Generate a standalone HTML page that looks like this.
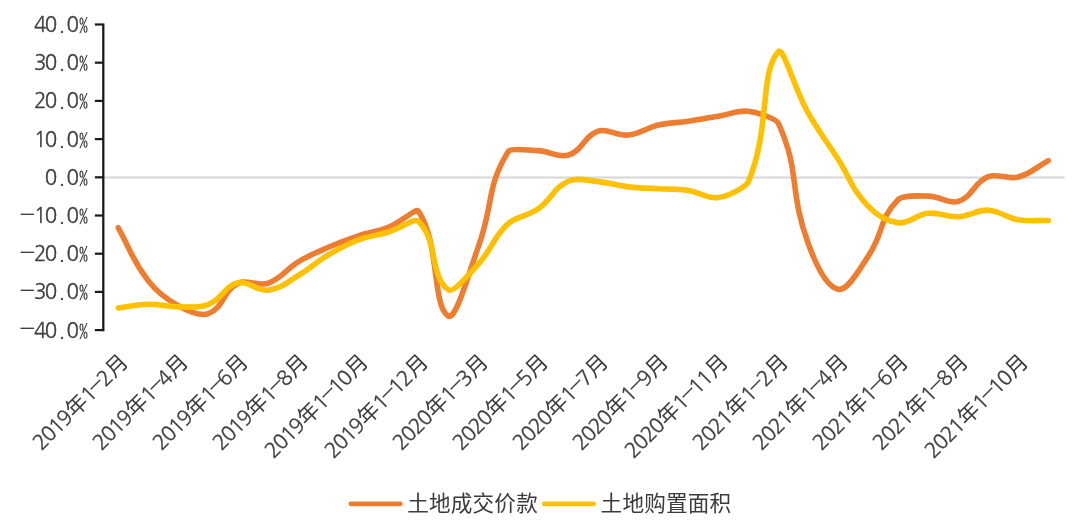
<!DOCTYPE html>
<html lang="zh-CN"><head><meta charset="utf-8"><title>chart</title>
<style>
html,body{margin:0;padding:0;background:#fff;}
body{width:1080px;height:529px;overflow:hidden;position:relative;}
svg{position:absolute;left:0;top:0;display:block;}
text{font-family:"NanumGothic","DejaVu Sans","Liberation Sans","Noto Sans CJK SC",sans-serif;font-size:20.6px;font-weight:400;fill:#404040;stroke:#404040;stroke-width:0.3px;}
.mn{font-family:"Noto Sans CJK SC","Liberation Sans",sans-serif;font-weight:300;font-size:29px;stroke:none;}
.m{text-anchor:middle;}
.cj{font-family:"Liberation Sans","Noto Sans CJK SC",sans-serif;font-size:21.6px;font-weight:400;fill:#3c3c3c;stroke:none;}
.pc{font-family:"IPAGothic","Liberation Sans",sans-serif;font-size:18px;stroke:none;}
.lg{font-family:"Liberation Sans","Noto Sans CJK SC",sans-serif;letter-spacing:0.2px;font-size:21.6px;font-weight:400;fill:#3c3c3c;stroke:none;}
</style></head><body>
<svg width="1080" height="529" viewBox="0 0 1080 529">

<line x1="104" y1="177.5" x2="1064.5" y2="177.5" stroke="#d6d6d6" stroke-width="2"/>
<line x1="103.3" y1="23.4" x2="103.3" y2="331.2" stroke="#1a1a1a" stroke-width="2.3"/>
<line x1="94.9" y1="24.5" x2="103" y2="24.5" stroke="#1a1a1a" stroke-width="2.2"/>
<text class="m"  x="40.3 51.1 61.9 72.7 83.5" y="31.9 31.9 31.9 31.9 31.9">40.0<tspan class="pc">%</tspan></text>
<line x1="94.9" y1="62.7" x2="103" y2="62.7" stroke="#1a1a1a" stroke-width="2.2"/>
<text class="m"  x="40.3 51.1 61.9 72.7 83.5" y="70.1 70.1 70.1 70.1 70.1">30.0<tspan class="pc">%</tspan></text>
<line x1="94.9" y1="100.9" x2="103" y2="100.9" stroke="#1a1a1a" stroke-width="2.2"/>
<text class="m"  x="40.3 51.1 61.9 72.7 83.5" y="108.3 108.3 108.3 108.3 108.3">20.0<tspan class="pc">%</tspan></text>
<line x1="94.9" y1="139.1" x2="103" y2="139.1" stroke="#1a1a1a" stroke-width="2.2"/>
<text class="m"  x="40.3 51.1 61.9 72.7 83.5" y="146.5 146.5 146.5 146.5 146.5">10.0<tspan class="pc">%</tspan></text>
<line x1="94.9" y1="177.3" x2="103" y2="177.3" stroke="#1a1a1a" stroke-width="2.2"/>
<text class="m"  x="51.1 61.9 72.7 83.5" y="184.7 184.7 184.7 184.7">0.0<tspan class="pc">%</tspan></text>
<line x1="94.9" y1="215.5" x2="103" y2="215.5" stroke="#1a1a1a" stroke-width="2.2"/>
<text class="m"  x="27.3 40.3 51.1 61.9 72.7 83.5" y="224.7 222.9 222.9 222.9 222.9 222.9"><tspan class="mn">−</tspan>10.0<tspan class="pc">%</tspan></text>
<line x1="94.9" y1="253.7" x2="103" y2="253.7" stroke="#1a1a1a" stroke-width="2.2"/>
<text class="m"  x="27.3 40.3 51.1 61.9 72.7 83.5" y="262.9 261.1 261.1 261.1 261.1 261.1"><tspan class="mn">−</tspan>20.0<tspan class="pc">%</tspan></text>
<line x1="94.9" y1="291.9" x2="103" y2="291.9" stroke="#1a1a1a" stroke-width="2.2"/>
<text class="m"  x="27.3 40.3 51.1 61.9 72.7 83.5" y="301.1 299.3 299.3 299.3 299.3 299.3"><tspan class="mn">−</tspan>30.0<tspan class="pc">%</tspan></text>
<line x1="94.9" y1="330.1" x2="103" y2="330.1" stroke="#1a1a1a" stroke-width="2.2"/>
<text class="m"  x="27.3 40.3 51.1 61.9 72.7 83.5" y="339.3 337.5 337.5 337.5 337.5 337.5"><tspan class="mn">−</tspan>40.0<tspan class="pc">%</tspan></text>
<path d="M118.3,227.8 C130.3,249.0 131.3,258.7 148.3,280.9 C155.3,289.9 163.6,297.7 178.3,305.7 C187.6,310.8 200.0,316.8 208.3,313.7 C224.0,307.8 222.2,291.4 238.3,283.2 C246.2,279.2 258.7,286.6 268.3,283.2 C282.7,278.0 285.1,269.7 298.3,261.8 C309.1,255.3 315.9,252.7 328.3,247.3 C339.9,242.3 345.9,239.9 358.3,235.8 C369.9,232.0 377.4,231.9 388.3,227.4 C401.4,222.0 416.2,207.8 418.3,211.0 C440.2,243.3 432.0,306.3 448.3,316.0 C456.0,320.7 469.6,270.7 478.3,246.9 C493.6,204.9 486.3,186.7 508.3,151.4 C510.3,148.2 526.4,149.9 538.3,150.6 C550.4,151.4 559.1,158.2 568.3,155.2 C583.1,150.4 583.5,136.2 598.3,131.1 C607.5,128.1 616.8,136.1 628.3,135.0 C640.8,133.7 645.8,127.9 658.3,125.0 C669.8,122.4 676.4,123.0 688.3,121.2 C700.4,119.4 706.3,118.2 718.3,116.2 C730.3,114.3 737.0,110.0 748.3,111.3 C761.0,112.7 776.8,119.8 778.3,123.1 C800.8,172.8 788.2,188.1 808.3,243.8 C812.2,254.5 824.0,286.4 838.3,289.3 C848.0,291.3 860.4,267.9 868.3,256.1 C884.4,232.0 878.7,219.1 898.3,199.5 C902.7,195.2 916.4,195.7 928.3,196.1 C940.4,196.5 949.2,204.4 958.3,201.4 C973.2,196.6 973.2,182.7 988.3,176.6 C997.2,173.0 1007.9,179.8 1018.3,177.0 C1031.9,173.4 1036.3,167.1 1048.3,160.6" fill="none" stroke="#ED7D31" stroke-width="5.6" stroke-linecap="round" stroke-linejoin="round"/>
<path d="M118.3,308.0 C130.3,306.5 136.3,304.4 148.3,304.2 C160.3,304.0 166.3,306.8 178.3,306.9 C190.3,306.9 198.8,308.4 208.3,304.6 C222.8,298.8 224.1,286.2 238.3,282.8 C248.1,280.4 257.2,291.4 268.3,290.1 C281.2,288.5 287.4,282.0 298.3,275.5 C311.4,267.9 315.3,262.6 328.3,254.9 C339.3,248.4 345.4,244.9 358.3,240.0 C369.4,235.8 376.6,235.6 388.3,232.0 C400.6,228.2 414.6,217.7 418.3,221.3 C438.6,240.8 429.5,276.3 448.3,289.7 C453.5,293.4 469.2,274.1 478.3,264.1 C493.2,247.7 491.7,239.0 508.3,223.6 C515.7,216.8 528.6,215.5 538.3,208.7 C552.6,198.6 552.8,188.2 568.3,181.2 C576.8,177.4 586.5,180.4 598.3,181.6 C610.5,182.7 616.1,185.4 628.3,186.9 C640.1,188.3 646.3,188.1 658.3,188.8 C670.3,189.5 676.6,188.6 688.3,190.4 C700.6,192.2 707.4,199.1 718.3,197.6 C731.4,195.8 746.9,185.5 748.3,182.0 C770.9,127.1 759.3,73.5 778.3,51.7 C783.3,46.0 793.7,87.1 808.3,113.2 C817.7,130.1 826.4,141.0 838.3,159.4 C850.4,178.3 850.9,188.0 868.3,206.4 C874.9,213.3 885.3,221.3 898.3,222.8 C909.3,224.1 915.8,214.5 928.3,213.3 C939.8,212.1 946.5,217.3 958.3,216.7 C970.5,216.1 976.6,209.6 988.3,210.2 C1000.6,210.8 1005.7,217.6 1018.3,219.8 C1029.7,221.7 1036.3,220.2 1048.3,220.5" fill="none" stroke="#FFC000" stroke-width="5.6" stroke-linecap="round" stroke-linejoin="round"/>
<text class="m" transform="translate(129.8,363.0) rotate(-45)" x="-118.7 -107.4 -96.1 -84.8 -67.8 -50.9 -39.6 -28.3 -11.3" y="0.0 0.0 0.0 0.0 0.0 0.0 1.6 0.0 0.0">2019<tspan class="cj">年</tspan>1<tspan class="mn">−</tspan>2<tspan class="cj">月</tspan></text>
<text class="m" transform="translate(189.8,363.0) rotate(-45)" x="-118.7 -107.4 -96.1 -84.8 -67.8 -50.9 -39.6 -28.3 -11.3" y="0.0 0.0 0.0 0.0 0.0 0.0 1.6 0.0 0.0">2019<tspan class="cj">年</tspan>1<tspan class="mn">−</tspan>4<tspan class="cj">月</tspan></text>
<text class="m" transform="translate(249.8,363.0) rotate(-45)" x="-118.7 -107.4 -96.1 -84.8 -67.8 -50.9 -39.6 -28.3 -11.3" y="0.0 0.0 0.0 0.0 0.0 0.0 1.6 0.0 0.0">2019<tspan class="cj">年</tspan>1<tspan class="mn">−</tspan>6<tspan class="cj">月</tspan></text>
<text class="m" transform="translate(309.8,363.0) rotate(-45)" x="-118.7 -107.4 -96.1 -84.8 -67.8 -50.9 -39.6 -28.3 -11.3" y="0.0 0.0 0.0 0.0 0.0 0.0 1.6 0.0 0.0">2019<tspan class="cj">年</tspan>1<tspan class="mn">−</tspan>8<tspan class="cj">月</tspan></text>
<text class="m" transform="translate(369.8,363.0) rotate(-45)" x="-130.0 -118.7 -107.4 -96.1 -79.1 -62.2 -50.9 -39.6 -28.3 -11.3" y="0.0 0.0 0.0 0.0 0.0 0.0 1.6 0.0 0.0 0.0">2019<tspan class="cj">年</tspan>1<tspan class="mn">−</tspan>10<tspan class="cj">月</tspan></text>
<text class="m" transform="translate(429.8,363.0) rotate(-45)" x="-130.0 -118.7 -107.4 -96.1 -79.1 -62.2 -50.9 -39.6 -28.3 -11.3" y="0.0 0.0 0.0 0.0 0.0 0.0 1.6 0.0 0.0 0.0">2019<tspan class="cj">年</tspan>1<tspan class="mn">−</tspan>12<tspan class="cj">月</tspan></text>
<text class="m" transform="translate(489.8,363.0) rotate(-45)" x="-118.7 -107.4 -96.1 -84.8 -67.8 -50.9 -39.6 -28.3 -11.3" y="0.0 0.0 0.0 0.0 0.0 0.0 1.6 0.0 0.0">2020<tspan class="cj">年</tspan>1<tspan class="mn">−</tspan>3<tspan class="cj">月</tspan></text>
<text class="m" transform="translate(549.8,363.0) rotate(-45)" x="-118.7 -107.4 -96.1 -84.8 -67.8 -50.9 -39.6 -28.3 -11.3" y="0.0 0.0 0.0 0.0 0.0 0.0 1.6 0.0 0.0">2020<tspan class="cj">年</tspan>1<tspan class="mn">−</tspan>5<tspan class="cj">月</tspan></text>
<text class="m" transform="translate(609.8,363.0) rotate(-45)" x="-118.7 -107.4 -96.1 -84.8 -67.8 -50.9 -39.6 -28.3 -11.3" y="0.0 0.0 0.0 0.0 0.0 0.0 1.6 0.0 0.0">2020<tspan class="cj">年</tspan>1<tspan class="mn">−</tspan>7<tspan class="cj">月</tspan></text>
<text class="m" transform="translate(669.8,363.0) rotate(-45)" x="-118.7 -107.4 -96.1 -84.8 -67.8 -50.9 -39.6 -28.3 -11.3" y="0.0 0.0 0.0 0.0 0.0 0.0 1.6 0.0 0.0">2020<tspan class="cj">年</tspan>1<tspan class="mn">−</tspan>9<tspan class="cj">月</tspan></text>
<text class="m" transform="translate(729.8,363.0) rotate(-45)" x="-130.0 -118.7 -107.4 -96.1 -79.1 -62.2 -50.9 -39.6 -28.3 -11.3" y="0.0 0.0 0.0 0.0 0.0 0.0 1.6 0.0 0.0 0.0">2020<tspan class="cj">年</tspan>1<tspan class="mn">−</tspan>11<tspan class="cj">月</tspan></text>
<text class="m" transform="translate(789.8,363.0) rotate(-45)" x="-118.7 -107.4 -96.1 -84.8 -67.8 -50.9 -39.6 -28.3 -11.3" y="0.0 0.0 0.0 0.0 0.0 0.0 1.6 0.0 0.0">2021<tspan class="cj">年</tspan>1<tspan class="mn">−</tspan>2<tspan class="cj">月</tspan></text>
<text class="m" transform="translate(849.8,363.0) rotate(-45)" x="-118.7 -107.4 -96.1 -84.8 -67.8 -50.9 -39.6 -28.3 -11.3" y="0.0 0.0 0.0 0.0 0.0 0.0 1.6 0.0 0.0">2021<tspan class="cj">年</tspan>1<tspan class="mn">−</tspan>4<tspan class="cj">月</tspan></text>
<text class="m" transform="translate(909.8,363.0) rotate(-45)" x="-118.7 -107.4 -96.1 -84.8 -67.8 -50.9 -39.6 -28.3 -11.3" y="0.0 0.0 0.0 0.0 0.0 0.0 1.6 0.0 0.0">2021<tspan class="cj">年</tspan>1<tspan class="mn">−</tspan>6<tspan class="cj">月</tspan></text>
<text class="m" transform="translate(969.8,363.0) rotate(-45)" x="-118.7 -107.4 -96.1 -84.8 -67.8 -50.9 -39.6 -28.3 -11.3" y="0.0 0.0 0.0 0.0 0.0 0.0 1.6 0.0 0.0">2021<tspan class="cj">年</tspan>1<tspan class="mn">−</tspan>8<tspan class="cj">月</tspan></text>
<text class="m" transform="translate(1029.8,363.0) rotate(-45)" x="-130.0 -118.7 -107.4 -96.1 -79.1 -62.2 -50.9 -39.6 -28.3 -11.3" y="0.0 0.0 0.0 0.0 0.0 0.0 1.6 0.0 0.0 0.0">2021<tspan class="cj">年</tspan>1<tspan class="mn">−</tspan>10<tspan class="cj">月</tspan></text>
<line x1="350.9" y1="503.8" x2="400.3" y2="503.8" stroke="#ED7D31" stroke-width="4.8" stroke-linecap="round"/>
<text class="lg" x="407.2" y="510.8">土地成交价款</text>
<line x1="544.3" y1="503.8" x2="593.6" y2="503.8" stroke="#FFC000" stroke-width="4.8" stroke-linecap="round"/>
<text class="lg" x="600.6" y="510.8">土地购置面积</text>
</svg></body></html>
